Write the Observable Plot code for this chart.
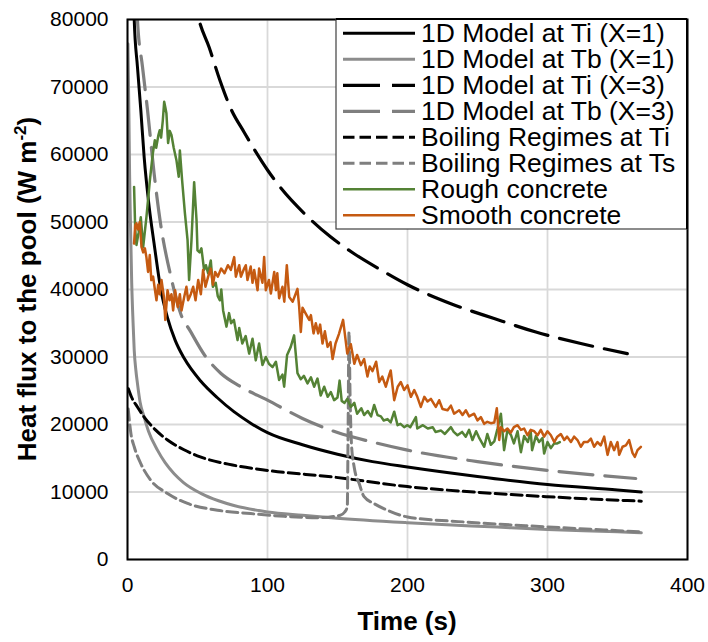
<!DOCTYPE html>
<html><head><meta charset="utf-8">
<script src="https://cdn.jsdelivr.net/npm/d3@7"></script>
<script src="https://cdn.jsdelivr.net/npm/@observablehq/plot@0.6"></script>
<style>
body{margin:0;background:#fff;}
#wrap{position:relative;width:708px;height:642px;font-family:"Liberation Sans",Arial,sans-serif;}
#wrap svg.legend{position:absolute;left:0;top:0;pointer-events:none;}
</style></head><body><div id="wrap"></div>
<script>
// ---- tick labels ----
const xTicks = [0, 100, 200, 300, 400];
const yTicks = [0, 10000, 20000, 30000, 40000, 50000, 60000, 70000, 80000];

// ---- series names (legend order) ----
const seriesNames = ["1D Model at Ti (X=1)", "1D Model at Tb (X=1)", "1D Model at Ti (X=3)", "1D Model at Tb (X=3)",
  "Boiling Regimes at Ti", "Boiling Regimes at Ts", "Rough concrete", "Smooth concrete"];

// ---- 1D Model at Ti (X=1) ----
const tTiX1 = [3.5, 4.8, 7.1, 9.5, 11.9, 15.5, 19, 23.8, 28.6, 34, 40.5, 52.4, 64, 76, 88, 100, 125, 150, 175, 200, 250, 300, 350, 367];
const qTiX1 = [95000, 80000, 73000, 66600, 59600, 52200, 46800, 40000, 35800, 32500, 29800, 26400, 24000, 21900, 20200, 18800, 17000, 15600, 14500, 13700, 12300, 11100, 10300, 10000];
// ---- 1D Model at Tb (X=1) ----
const tTbX1 = [0.3, 1, 1.5, 2, 3, 4, 4.8, 6, 7.1, 9, 11.9, 15, 21.4, 27, 33.3, 40, 52.4, 65, 76, 100, 125, 147.6, 200, 264, 300, 350, 367];
const qTbX1 = [76400, 66000, 57000, 51000, 41000, 35000, 31000, 28000, 26100, 23300, 21100, 19000, 16200, 14300, 12700, 11400, 9800, 8700, 8000, 7050, 6550, 6150, 5450, 4800, 4450, 4100, 3950];
// ---- 1D Model at Ti (X=3) ----
const tTiX3 = [45, 51, 58.3, 66, 73.8, 83.3, 100, 107, 128.6, 145, 161.9, 181, 200, 231, 261.9, 291.7, 323.8, 357];
const qTiX3 = [86000, 80000, 75900, 71000, 66800, 63300, 57700, 55700, 50800, 47800, 45300, 42900, 40700, 37900, 35700, 33700, 32000, 30500];
// ---- 1D Model at Tb (X=3) ----
const tTbX3 = [5, 7.1, 10.7, 14.3, 19, 23.8, 31, 38, 45, 55, 66.6, 80, 100, 125, 150, 175, 200, 250, 300, 363];
const qTbX3 = [95000, 80000, 73000, 66600, 57200, 49500, 41900, 36400, 33800, 30300, 27600, 25700, 23600, 20900, 18800, 17400, 16200, 14500, 13200, 12000];
// ---- Boiling Regimes at Ti ----
const tBrTi = [0.6, 3, 7.1, 11.9, 20, 28.6, 40, 52, 75, 100, 147.6, 200, 250, 300, 367];
const qBrTi = [25300, 24000, 22600, 21100, 19200, 17700, 16300, 15200, 14000, 13200, 12200, 10800, 9950, 9300, 8640];
// ---- Boiling Regimes at Ts ----
const tBrTs = [0.5, 2.4, 4.8, 9.5, 16.6, 28.6, 42.9, 64.3, 88, 112, 135.7, 152, 155, 157, 157.6, 158.2, 159, 160, 161.9, 165.5, 169, 176, 185.7, 200, 240, 300, 367];
const qBrTs = [22300, 18700, 16700, 14200, 11750, 9780, 8300, 7300, 6800, 6400, 6200, 6560, 7000, 7800, 20000, 33700, 24000, 17000, 13700, 11260, 9300, 8300, 7300, 6300, 5570, 4830, 4090];
// ---- Rough concrete (measured) ----
const tRough = [4.7,5.5,6.4,8,9.5,11.2,13.5,16,18,19.5,20.5,22,23,24,25.2,26.2,27,27.8,29,30.2,31.4,33,35,36.6,37.4,39,41,42.9,44,45.7,47.6,49.3,50,51.5,52.8,54.7,56,57.6,59.5,61,63,64.5,66,67,68.3,70.7,72.5,74,76,78.6,79.8,82,84.4,86.9,89.3,91.6,94,96.4,98.8,101,103.6,106,108.3,110.7,111.9,114,116.6,119,121.4,123.8,126,128.6,131,133.3,135.7,138,140.5,143,145.2,147.6,150,151.5,153,155,157,159.5,162,164,167,169,171.6,174,176.2,178.6,181,183,185.7,188,190.5,192.9,195,197.6,200,202,206,207,211,214.5,218,220,224,226.7,231,233,235.7,239,241.6,244,246.4,249,251,254.8,257,259.5,262,264.3,266.7,269,271.4,274,276,278.6,281,283.3,286,288,289,291.7,294,296.4,297.6,300,302.4,304.8,307,308.8];
const qRough = [55200,49000,46600,48500,50700,46300,50700,56200,60000,62100,61000,62800,63600,62500,65000,67800,67000,66100,61700,63500,62900,61000,59100,56700,60600,56200,51300,47300,41400,47300,55900,50300,45800,45500,46100,42900,43600,42400,44300,40400,41000,39000,38400,40000,36900,34500,36500,35000,35500,32500,34300,32000,33100,30500,32700,29500,32000,28800,30000,29000,28500,29300,26600,27400,25600,30300,31500,33200,27600,26700,27200,26100,27000,25600,26800,24300,25600,24100,24800,23600,24000,26500,23500,23200,23800,22600,23200,21600,22400,21400,22000,21200,22900,21400,21200,20600,20800,20300,21900,19900,20100,19600,19900,19600,21100,19400,19900,19400,19600,18900,19100,18600,19600,18900,18400,18900,18200,19200,17700,19000,18100,16700,18600,17000,17500,19400,21600,16200,19200,18400,17200,19000,15900,18300,17400,19000,16200,18300,17400,18000,15700,17400,16500,17200,17200,17400];
// ---- Smooth concrete (measured) ----
const tSmooth = [4.7,5.5,6.4,7.4,8.8,10,11.2,12.4,13.5,14.7,15.9,17,18.3,19.5,20.7,21.9,23,24.3,26,27,28.6,30,31.4,32.6,34,35.9,37.4,38.6,40.5,42.1,43.3,45.2,46.9,48.6,50.5,52.4,54,55.7,57.6,59.5,61,62.6,64.5,66.9,69.3,71.7,73.8,76.2,77.4,79.8,81,83.3,84.5,85.7,88,89.3,90.5,92.9,94,96.4,97.6,98.8,101,102.4,104.8,106,107,108.3,110.7,112,113.8,115.5,118,120.2,121.4,122.6,123.8,125,127.4,129.8,131,132.9,134.5,136.2,137.6,139.3,141,142.9,145,146.5,148.6,151,154,157,159.5,162,164,166.7,169,171.4,173,175,177.6,179.8,182,184.5,187,188,190.5,193,195.2,197.6,200,202.4,204.8,207,209.5,212,214.3,216.7,220.2,222.6,225,228.6,231,233.3,236.9,239.3,241.7,244,247.6,250,252.4,254.8,257,259.5,262,263.8,265.5,266.7,269,271.4,273.8,276,278.6,281,283.3,285.7,288,290.5,292.9,295.2,297.6,300,302.4,304.8,307,309.5,312,314,316.7,319,321.4,323.8,326,328.6,331,333.3,335.7,338,340.5,342.9,345.2,347.6,350,351.2,353.6,356,358.3,360.7,362.4,364.3,366.7];
const qSmooth = [46800,49500,49800,48900,50000,46300,45500,46100,44800,42600,45100,41400,41900,40100,38400,40700,39300,41400,38900,35500,39900,38400,39300,36900,39900,37400,39300,36900,38900,40400,38400,39300,40400,38400,41400,39300,42900,40400,41900,43100,40700,42600,41900,43100,42400,43600,42900,44800,41900,43600,41900,43100,43600,41400,43400,41000,42900,39900,43100,41000,44800,39900,41400,39400,42600,39900,42400,38700,40400,38200,43600,38900,38200,39400,40100,37500,33700,37300,36400,35500,36200,33500,35000,33500,34800,32000,33800,31500,32200,29700,32000,33400,35500,30500,31900,29000,30300,28800,29700,27100,28600,27900,29300,26300,27100,25600,27400,28000,23600,25600,26300,25100,25800,24100,25100,24100,22600,24100,23400,23800,22600,23600,22300,22100,22800,21600,22100,21400,22100,21200,21600,20600,21100,20100,20400,20200,20300,22400,17700,19600,19000,19400,18800,19600,19900,19200,19400,18400,19200,19000,18400,19200,18200,19000,18400,17400,18200,18600,17700,18200,17400,18200,17700,16700,17400,17400,17900,16700,17400,16900,18200,15500,17400,16200,17400,15500,16700,16900,17700,15800,15200,16200,16700];

// ---- styles ----
const seriesColors = ["#000000", "#8c8c8c", "#000000", "#7f7f7f", "#000000", "#7f7f7f", "#548235", "#c55a11"];
const seriesDash = [null, null, "34,12", "34,12", "11,5", "11,5", null, null];
const seriesWidth = [3, 3, 3.2, 3.2, 3, 3, 2.5, 2.5];

const seriesT = [tTiX1, tTbX1, tTiX3, tTbX3, tBrTi, tBrTs, tRough, tSmooth];
const seriesQ = [qTiX1, qTbX1, qTiX3, qTbX3, qBrTi, qBrTs, qRough, qSmooth];

const lineMarks = seriesNames.map((name, i) => {
  const rows = seriesT[i].map((t, j) => ({t, q: seriesQ[i][j]}));
  const opts = {x: "t", y: "q", stroke: seriesColors[i], strokeWidth: seriesWidth[i], clip: true,
    strokeLinejoin: "round", curve: i < 6 ? "monotone-x" : "linear"};
  if (seriesDash[i]) opts.strokeDasharray = seriesDash[i];
  return Plot.line(rows, opts);
});

const chart = Plot.plot({
  width: 708, height: 642,
  marginLeft: 127, marginRight: 21, marginTop: 19, marginBottom: 83,
  style: {fontFamily: '"Liberation Sans", Arial, sans-serif', fontSize: "21px", color: "#000", background: "white", overflow: "visible"},
  x: {domain: [0, 400]},
  y: {domain: [0, 80000]},
  marks: [
    Plot.gridX(xTicks, {stroke: "#d9d9d9", strokeOpacity: 1, strokeWidth: 1.8}),
    Plot.gridY(yTicks, {stroke: "#d9d9d9", strokeOpacity: 1, strokeWidth: 1.8}),
    ...lineMarks,
    Plot.frame({stroke: "#000", strokeWidth: 2}),
    Plot.axisX(xTicks, {tickSize: 0, tickPadding: 18, label: null, fontSize: 21}),
    Plot.axisY(yTicks, {tickSize: 0, tickPadding: 19, label: null, fontSize: 21, tickFormat: d => String(d)})
  ]
});

const wrap = document.getElementById("wrap");
wrap.appendChild(chart);

// axis titles
const svg = d3.select(chart);
const yt = svg.append("text")
  .attr("transform", "translate(36,289) rotate(-90)")
  .attr("text-anchor", "middle")
  .style("font-weight", "bold").style("font-size", "26px").attr("fill", "#000");
yt.append("tspan").text("Heat flux to the pool (W m");
yt.append("tspan").attr("dy", -10).style("font-size", "17px").text("-2");
yt.append("tspan").attr("dy", 10).text(")");
svg.append("text").attr("x", 407).attr("y", 630).attr("text-anchor", "middle")
  .style("font-weight", "bold").style("font-size", "26px").attr("fill", "#000").text("Time (s)");

// legend overlay
const leg = d3.create("svg").attr("class", "legend").attr("width", 708).attr("height", 642);
leg.append("rect").attr("x", 336).attr("y", 19).attr("width", 351).attr("height", 210)
  .attr("fill", "white").attr("stroke", "#404040").attr("stroke-width", 1.2);
seriesNames.forEach((name, i) => {
  const cy = 33.3 + 26 * i;
  const ln = leg.append("line").attr("x1", 343).attr("x2", 415).attr("y1", cy).attr("y2", cy)
    .attr("stroke", seriesColors[i]).attr("stroke-width", seriesWidth[i]);
  if (seriesDash[i]) ln.attr("stroke-dasharray", i < 4 ? "37,12" : "11.5,5");
  leg.append("text").attr("x", 421).attr("y", cy + 8.8)
    .style("font-family", '"Liberation Sans", Arial, sans-serif').style("font-size", "26.5px")
    .attr("fill", "#000").text(name);
});
// re-draw frame edges the legend covers
leg.append("line").attr("x1", 336).attr("x2", 687).attr("y1", 19).attr("y2", 19).attr("stroke", "#000").attr("stroke-width", 2);
leg.append("line").attr("x1", 687).attr("x2", 687).attr("y1", 19).attr("y2", 229).attr("stroke", "#000").attr("stroke-width", 2);
wrap.appendChild(leg.node());
</script></body></html>
